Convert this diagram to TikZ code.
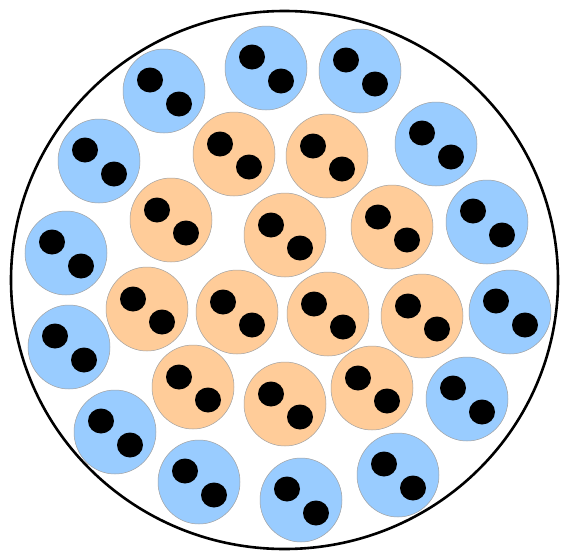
\documentclass[tikz,border=0pt]{standalone}
\usepackage{xcolor}
\usepackage{tikz}
\definecolor{CellBlue}{RGB}{153, 204, 255}
\definecolor{CellOrange}{RGB}{255, 204, 153}
\definecolor{CellRim}{RGB}{160, 160, 160}

\tikzset{
  bluecell/.style={fill=CellBlue, draw=CellRim, line width=0.5pt},
  orangecell/.style={fill=CellOrange, draw=CellRim, line width=0.5pt},
  cellcore/.style={fill=black},
  outerwall/.style={draw=black, line width=2.6pt}
}

\begin{document}
\begin{tikzpicture}[x=1pt,y=-1pt]
  \path[use as bounding box] (0,0) rectangle (563,552);

  % Outer wall
  \draw[outerwall] (284.5,280) ellipse [x radius=273.5, y radius=269];

  % Blue ring
  \foreach \cx/\cy [count=\i] in {
    164/91, 266/68, 360/71, 436/144, 487/222, 510/312, 467/399,
    398/475, 301/500, 199/482, 115/432, 69/347, 66/253, 99/161}{
    \path[bluecell] (\cx,\cy) coordinate (b\i) ellipse [x radius=41, y radius=42];
    \fill[cellcore] ([shift={(-14,-11)}]b\i) ellipse [x radius=13, y radius=12.5];
    \fill[cellcore] ([shift={(15,13)}]b\i) ellipse [x radius=13, y radius=12.5];
  }

  % Orange core
  \foreach \cx/\cy [count=\i] in {
    234/154, 327/156, 171/220, 285/235, 392/227, 147/309,
    237/312, 328/314, 422/316, 193/387, 285/404, 372/388}{
    \path[orangecell] (\cx,\cy) coordinate (o\i) ellipse [x radius=41, y radius=42];
    \fill[cellcore] ([shift={(-14,-10)}]o\i) ellipse [x radius=13, y radius=12.5];
    \fill[cellcore] ([shift={(15,13)}]o\i) ellipse [x radius=13, y radius=12.5];
  }
\end{tikzpicture}
\end{document}
